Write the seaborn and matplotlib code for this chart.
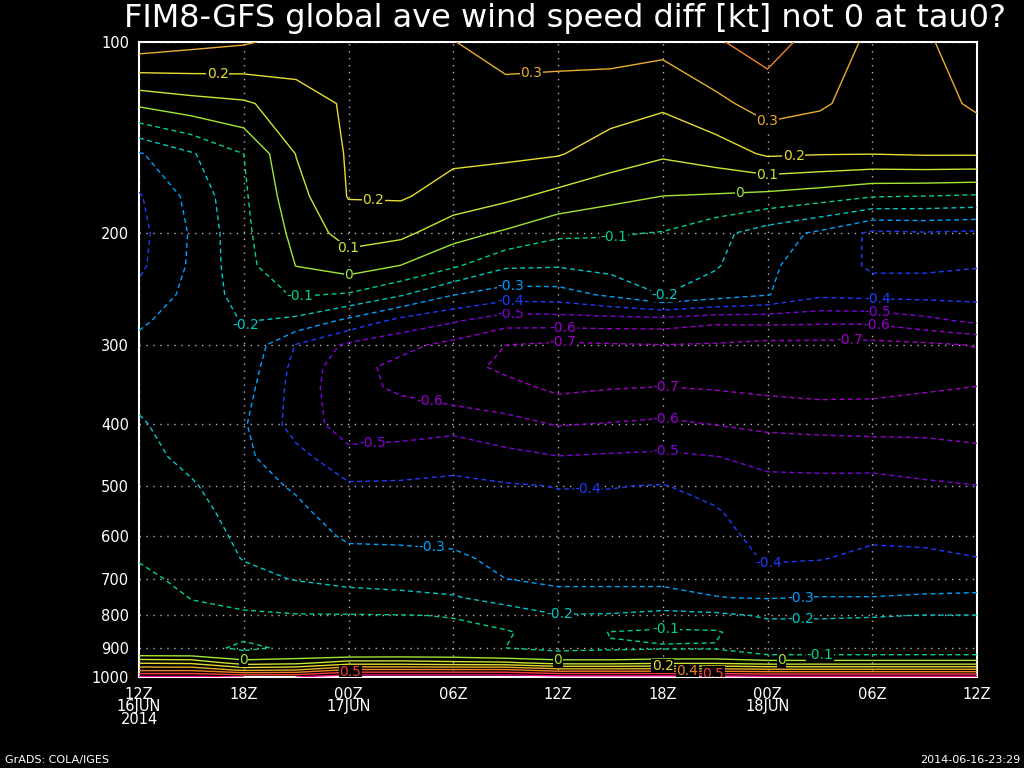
import numpy as np
import matplotlib
matplotlib.use("Agg")
import matplotlib.pyplot as plt
import seaborn as sns

# ---------------- data ----------------
hours = [0, 3, 6, 9, 12, 15, 18, 21, 24, 27, 30, 33, 36, 39, 42, 45, 48]
pressure_levels = [1000, 975, 950, 925, 900, 850, 800, 750, 700, 650, 600, 550,
                   500, 450, 400, 350, 325, 300, 275, 250, 225, 200, 175, 150, 125, 100]

# each column: values at pressure_levels (1000 -> 100 hPa)
diff_t00 = [0.62, 0.38, 0.19, -0.005, -0.02, -0.026, -0.044, -0.064, -0.085, -0.104, -0.119, -0.134,
            -0.15, -0.169, -0.19, -0.225, -0.252, -0.278, -0.314, -0.373, -0.42, -0.43, -0.41, -0.31, 0.02, 0.36]
diff_t03 = [0.62, 0.38, 0.18, -0.01, -0.07, -0.07, -0.085, -0.102, -0.117, -0.133, -0.151, -0.17,
            -0.19, -0.225, -0.245, -0.25, -0.25, -0.25, -0.255, -0.27, -0.285, -0.29, -0.27, -0.21, 0.062, 0.33]
diff_t06 = [0.60, 0.28, 0.05, -0.07, -0.115, -0.08, -0.09, -0.122, -0.17, -0.205, -0.22, -0.235,
            -0.26, -0.28, -0.29, -0.26, -0.24, -0.22, -0.195, -0.16, -0.135, -0.125, -0.115, -0.10, 0.086, 0.31]
diff_t09 = [0.60, 0.30, 0.07, -0.05, -0.085, -0.08, -0.095, -0.148, -0.206, -0.228, -0.252, -0.278,
            -0.312, -0.369, -0.44, -0.44, -0.43, -0.405, -0.225, -0.09, 0.002, 0.03, 0.064, 0.103, 0.15, 0.27]
diff_t12 = [0.68, 0.42, 0.15, -0.04, -0.07, -0.075, -0.095, -0.168, -0.226, -0.271, -0.314, -0.35,
            -0.388, -0.468, -0.55, -0.57, -0.565, -0.52, -0.325, -0.11, 0.048, 0.142, 0.205, 0.21, 0.215, 0.25]
diff_t15 = [0.68, 0.42, 0.15, -0.035, -0.07, -0.075, -0.097, -0.179, -0.232, -0.276, -0.316, -0.349,
            -0.385, -0.461, -0.541, -0.615, -0.63, -0.571, -0.433, -0.19, -0.002, 0.124, 0.21, 0.24, 0.26, 0.28]
diff_t18 = [0.68, 0.42, 0.13, -0.04, -0.08, -0.085, -0.103, -0.193, -0.24, -0.286, -0.319, -0.348,
            -0.379, -0.436, -0.532, -0.66, -0.665, -0.63, -0.49, -0.297, -0.084, 0.039, 0.16, 0.22, 0.256, 0.298]
diff_t21 = [0.68, 0.42, 0.12, -0.07, -0.10, -0.09, -0.156, -0.23, -0.30, -0.32, -0.342, -0.365,
            -0.391, -0.47, -0.57, -0.67, -0.72, -0.70, -0.56, -0.35, -0.185, -0.015, 0.122, 0.219, 0.27, 0.33]
diff_t24 = [0.65, 0.35, 0.06, -0.085, -0.11, -0.15, -0.195, -0.28, -0.314, -0.334, -0.355, -0.377,
            -0.403, -0.497, -0.605, -0.72, -0.75, -0.72, -0.555, -0.344, -0.192, -0.082, 0.071, 0.207, 0.263, 0.33]
diff_t27 = [0.65, 0.35, 0.06, -0.085, -0.105, -0.097, -0.19, -0.28, -0.314, -0.333, -0.355, -0.377,
            -0.403, -0.488, -0.594, -0.705, -0.745, -0.71, -0.55, -0.282, -0.167, -0.091, 0.027, 0.154, 0.242, 0.34]
diff_t30 = [0.65, 0.35, 0.08, -0.07, -0.105, -0.085, -0.167, -0.284, -0.311, -0.329, -0.349, -0.37,
            -0.396, -0.482, -0.58, -0.698, -0.74, -0.702, -0.55, -0.198, -0.154, -0.105, -0.001, 0.113, 0.217, 0.33]
diff_t33 = [0.65, 0.35, 0.08, -0.07, -0.105, -0.09, -0.18, -0.298, -0.32, -0.35, -0.37, -0.39,
            -0.43, -0.498, -0.602, -0.707, -0.745, -0.71, -0.58, -0.25, -0.19, -0.17, -0.01, 0.148, 0.274, 0.39]
diff_t36 = [0.63, 0.33, 0.05, -0.097, -0.125, -0.16, -0.21, -0.305, -0.365, -0.41, -0.43, -0.455,
            -0.48, -0.52, -0.625, -0.72, -0.76, -0.73, -0.575, -0.295, -0.28, -0.25, -0.029, 0.214, 0.343, 0.44]
diff_t39 = [0.63, 0.33, 0.05, -0.097, -0.125, -0.16, -0.21, -0.297, -0.35, -0.405, -0.44, -0.46,
            -0.48, -0.525, -0.635, -0.73, -0.765, -0.73, -0.58, -0.38, -0.36, -0.32, -0.056, 0.205, 0.315, 0.36]
diff_t42 = [0.63, 0.33, 0.05, -0.097, -0.125, -0.16, -0.205, -0.298, -0.337, -0.378, -0.414, -0.443,
            -0.475, -0.53, -0.64, -0.725, -0.765, -0.73, -0.58, -0.37, -0.41, -0.42, -0.095, 0.202, 0.25, 0.28]
diff_t45 = [0.63, 0.33, 0.05, -0.097, -0.125, -0.16, -0.198, -0.29, -0.34, -0.38, -0.421, -0.452,
            -0.486, -0.547, -0.635, -0.71, -0.75, -0.72, -0.53, -0.37, -0.41, -0.41, -0.102, 0.21, 0.25, 0.29]
diff_t48 = [0.63, 0.33, 0.05, -0.097, -0.125, -0.16, -0.198, -0.285, -0.34, -0.398, -0.43, -0.462,
            -0.498, -0.57, -0.64, -0.698, -0.73, -0.695, -0.48, -0.37, -0.403, -0.42, -0.113, 0.21, 0.32, 0.34]

contour_levels = [-0.7, -0.6, -0.5, -0.4, -0.3, -0.2, -0.1, 0.0, 0.1, 0.2, 0.3, 0.4, 0.5, 0.6]
xtick_hours = [0, 6, 12, 18, 24, 30, 36, 42, 48]
xtick_labels = ["12Z\n16JUN\n2014", "18Z", "00Z\n17JUN", "06Z", "12Z", "18Z",
                "00Z\n18JUN", "06Z", "12Z"]
ytick_values = [100, 200, 300, 400, 500, 600, 700, 800, 900, 1000]
title = "FIM8-GFS global ave wind speed diff [kt] not 0 at tau0?"

# ---------------- style ----------------
sns.set_theme(style="dark", rc={
    "axes.facecolor": "black", "figure.facecolor": "black",
    "axes.edgecolor": "white", "text.color": "white",
    "xtick.color": "white", "ytick.color": "white",
    "axes.labelcolor": "white",
})
plt.rcParams["font.family"] = ["DejaVu Sans"]
plt.rcParams["lines.dashed_pattern"] = [3.5, 2.5]

level_colors = ["#a000c8", "#9600d2", "#8200dc", "#1e3cff", "#00a0ff", "#00c8c8",
                "#00d28c", "#a0e632", "#c8e632", "#e6dc32", "#e6af2d", "#f08228",
                "#fa3c3c", "#f00082"]

# contour-label anchor spots (hour, hPa) per level, as GrADS placed them
label_spots = {
    -0.7: [(24.3, 291), (30.2, 342), (40.7, 287)],
    -0.6: [(24.3, 280), (16.7, 360), (30.2, 391), (42.3, 277)],
    -0.5: [(21.3, 269), (13.4, 439), (30.2, 441), (42.3, 266)],
    -0.4: [(21.3, 257), (42.3, 252), (25.7, 506), (36.1, 670)],
    -0.3: [(21.3, 244), (16.8, 622), (37.9, 756)],
    -0.2: [(6.2, 282), (30.2, 252), (24.1, 800), (37.9, 808)],
    -0.1: [(9.2, 253), (27.2, 204), (30.2, 836), (39.0, 919)],
    0.0: [(12.0, 234), (34.4, 173), (6.0, 937), (24.0, 941), (36.8, 940)],
    0.1: [(12.0, 216), (36.0, 164)],
    0.2: [(4.5, 113.5), (13.4, 189), (37.5, 153), (30.0, 955)],
    0.3: [(22.5, 114), (36.0, 137)],
    0.4: [(31.4, 975)],
    0.5: [(32.9, 981), (12.1, 981)],
}

Z = np.column_stack([diff_t00, diff_t03, diff_t06, diff_t09, diff_t12, diff_t15, diff_t18,
                     diff_t21, diff_t24, diff_t27, diff_t30, diff_t33, diff_t36, diff_t39,
                     diff_t42, diff_t45, diff_t48])

fig = plt.figure(figsize=(10.24, 7.68), dpi=100)
ax = fig.add_axes([139 / 1024, 1 - 677 / 768, 838 / 1024, 635 / 768])
ax.set_facecolor("black")
ax.set_yscale("log")
ax.set_xlim(0, 48)
ax.set_ylim(1000, 100)


def fmt(v):
    if abs(v) < 1e-9:
        return "0"
    return f"{v:.1f}"


for lev, col in zip(contour_levels, level_colors):
    style = "dashed" if lev < 0 else "solid"
    cs = ax.contour(hours, pressure_levels, Z, levels=[lev], colors=[col],
                    linestyles=[style], linewidths=1.0, zorder=3)
    spots = label_spots.get(lev)
    if spots:
        texts = ax.clabel(cs, manual=spots, inline=False, fmt=fmt, fontsize=10)
        for t in texts:
            t.set_rotation(0)
            t.set_bbox(dict(facecolor="black", edgecolor="none", pad=0.3))

ax.set_xticks(xtick_hours)
ax.set_xticklabels(xtick_labels, fontsize=10.5, linespacing=0.8)
ax.yaxis.set_major_locator(matplotlib.ticker.FixedLocator(ytick_values))
ax.yaxis.set_minor_locator(matplotlib.ticker.NullLocator())
ax.set_yticklabels([str(v) for v in ytick_values], fontsize=10.5)
ax.tick_params(axis="both", direction="out", length=5, width=1, colors="white", pad=2)
ax.grid(True, color="#b4b4b4", linestyle=(0, (1, 4)), linewidth=1.0, zorder=1)
for s in ax.spines.values():
    s.set_color("white")
    s.set_linewidth(1.5)
    s.set_visible(True)

fig.text(565 / 1024, 1 - 19 / 768, title, fontsize=23, color="white",
         ha="center", va="center")
fig.text(5 / 1024, 1 - 760 / 768, "GrADS: COLA/IGES", fontsize=8, color="white",
         ha="left", va="center")
fig.text(1020 / 1024, 1 - 760 / 768, "2014-06-16-23:29", fontsize=8, color="white",
         ha="right", va="center")

fig.savefig("out.png", dpi=100, facecolor="black")
